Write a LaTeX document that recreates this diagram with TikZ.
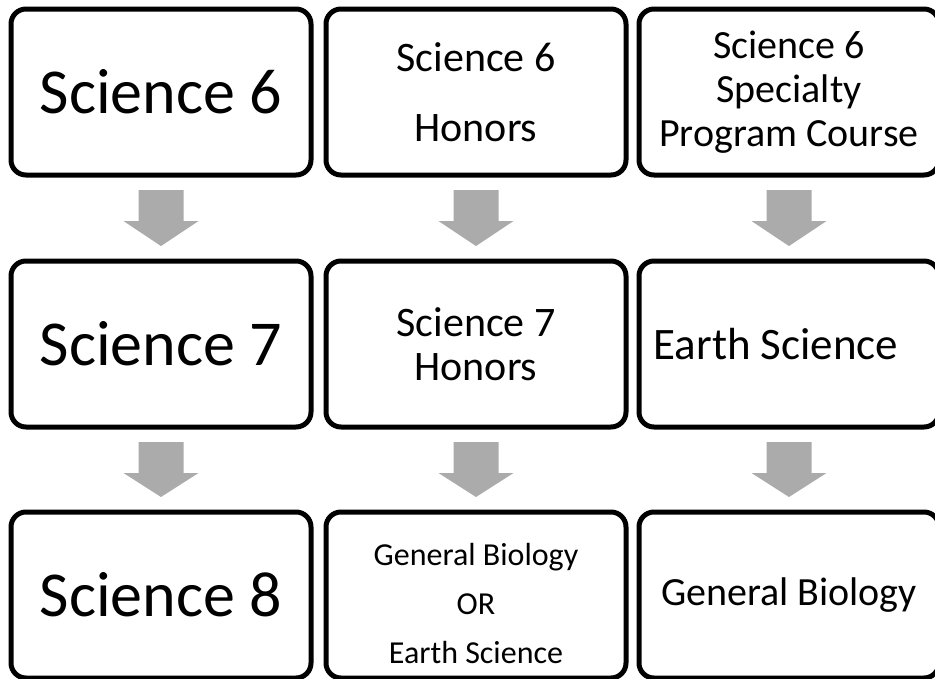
\documentclass[tikz,border=0pt]{standalone}
\usepackage{fontspec}
\setmainfont{Carlito}
\usetikzlibrary{calc}
\definecolor{arrowgray}{HTML}{ABABAB}
\begin{document}
\begin{tikzpicture}[x=1pt,y=-1pt,
  box/.style={draw=black, line width=5pt, rounded corners=15pt, minimum width=300pt, minimum height=166pt, inner sep=0pt, align=center, fill=white},
  bigtxt/.style={font=\fontsize{64}{70}\selectfont},
  medtxt/.style={font=\fontsize{40}{44}\selectfont},
  honortxt/.style={font=\fontsize{42}{44}\selectfont},
  earthtxt/.style={font=\fontsize{45}{50}\selectfont},
  widetxt/.style={font=\fontsize{42}{70}\selectfont},
  smalltxt/.style={font=\fontsize{32}{49}\selectfont, align=center},
  flowarrow/.style={fill=arrowgray, draw=none}
]
\useasboundingbox (0,0) rectangle (935,678);
\clip (0,0) rectangle (935,678);

\node[box, bigtxt] (a1) at (161,92) {Science 6};
\node[box, widetxt] (b1) at (476,92) {Science 6\\Honors};
\node[box, medtxt] (c1) at (789,92) {Science 6\\Specialty\\Program Course};

\node[box, bigtxt] (a2) at (161,344) {Science 7};
\node[box, honortxt] (b2) at (476,344) {Science 7\\Honors};
\node[box] (c2) at (789,344) {};
\node[earthtxt] (c2t) at ($(c2.center)+(-13,0)$) {Earth Science};

\node[box, bigtxt] (a3) at (161,595) {Science 8};
\node[box] (b3) at (476,595) {};
\node[smalltxt] (b3t) at ($(b3.center)+(0,8)$) {General Biology\\OR\\Earth Science};
\node[box, medtxt] (c3) at (789,595) {General Biology};

\foreach \u/\v in {a1/a2, b1/b2, c1/c2, a2/a3, b2/b3, c2/c3}{
  \fill[flowarrow] ($(\u.south)+(-22.5,12.5)$) -- ++(45,0) -- ++(0,31) -- ++(15,0)
    -- ($(\v.north)+(0,-12.5)$) -- ($(\u.south)+(-37.5,43.5)$) -- ++(15,0) -- cycle;
}
\end{tikzpicture}
\end{document}
